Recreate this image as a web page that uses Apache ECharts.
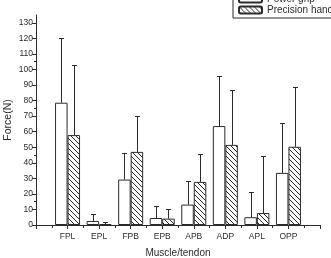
<!DOCTYPE html>
<html>
<head>
<meta charset="utf-8">
<script src="https://cdn.jsdelivr.net/npm/echarts@6/dist/echarts.min.js"></script>
<style>
  html, body { margin: 0; padding: 0; background: #fff; }
  #chart { width: 331px; height: 258px; }
</style>
</head>
<body>
<div id="chart"></div>
<script>
const muscles = ['FPL', 'EPL', 'FPB', 'EPB', 'APB', 'ADP', 'APL', 'OPP'];
const powerGrip = [78.6, 2.6, 29.2, 4.5, 13.1, 63.6, 5.0, 33.5];
const powerGripUpper = [120.5, 6.9, 46.4, 12.0, 28.4, 95.8, 21.5, 65.6];
const precisionHand = [57.8, 0.6, 47.0, 4.1, 27.7, 51.5, 7.7, 50.3];
const precisionHandUpper = [102.9, 2.2, 69.8, 10.3, 45.8, 86.6, 44.5, 88.7];
const yTicks = [0, 10, 20, 30, 40, 50, 60, 70, 80, 90, 100, 110, 120, 130];

const INK = '#2b2b2b';
const BAR_W = 12.5;

// diagonal hatch pattern "\\\\"
function hatch() {
  const c = document.createElement('canvas');
  c.width = 5; c.height = 5;
  const g = c.getContext('2d');
  g.fillStyle = '#fff';
  g.fillRect(0, 0, 5, 5);
  g.strokeStyle = INK;
  g.lineWidth = 1;
  g.beginPath();
  g.moveTo(-1, -1); g.lineTo(6, 6);
  g.moveTo(-1, 4); g.lineTo(1, 6);
  g.moveTo(4, -1); g.lineTo(6, 1);
  g.stroke();
  return { image: c, repeat: 'repeat' };
}

const chart = echarts.init(document.getElementById('chart'), null, { renderer: 'canvas' });

function errorSeries(upper, vals, offset) {
  return {
    type: 'custom',
    silent: true,
    z: 5,
    data: muscles.map((m, i) => [i + 1, vals[i], upper[i]]),
    renderItem: (params, api) => {
      const low = api.coord([api.value(0), api.value(1)]);
      const high = api.coord([api.value(0), api.value(2)]);
      const x = Math.round(low[0] + offset) + 0.5;
      const y0 = low[1];
      const y1 = Math.round(high[1]) + 0.5;
      const style = { stroke: INK, lineWidth: 1 };
      return {
        type: 'group',
        children: [
          { type: 'line', shape: { x1: x, y1: y0, x2: x, y2: y1 }, style },
          { type: 'line', shape: { x1: x - 2.5, y1: y1, x2: x + 2.5, y2: y1 }, style }
        ]
      };
    }
  };
}

chart.setOption({
  animation: false,
  textStyle: { fontFamily: 'Liberation Sans, Arial, sans-serif' },
  grid: { left: 36, right: 11, top: 15, bottom: 33, containLabel: false, outerBoundsMode: 'none' },
  legend: {
    orient: 'vertical',
    left: 233,
    top: -9,
    itemWidth: 23,
    itemHeight: 7,
    itemGap: 1,
    padding: [3, 4, 3, 5],
    borderColor: INK,
    borderWidth: 1,
    textStyle: { fontSize: 10, color: INK, fontFamily: 'Liberation Sans, Arial, sans-serif' },
    data: ['Power grip', 'Precision hand']
  },
  xAxis: {
    type: 'value',
    min: 0,
    max: 9,
    interval: 1,
    name: 'Muscle/tendon',
    nameLocation: 'middle',
    nameGap: 23,
    nameMoveOverlap: false,
    nameTextStyle: { fontSize: 10, color: INK },
    splitLine: { show: false },
    axisLine: { show: true, lineStyle: { color: INK } },
    axisTick: { show: true, length: 4, lineStyle: { color: INK } },
    minorTick: { show: true, splitNumber: 2, length: 3, lineStyle: { color: INK } },
    axisLabel: {
      fontSize: 8.5,
      color: INK,
      margin: 7,
      formatter: v => muscles[v - 1] || ''
    }
  },
  yAxis: {
    type: 'value',
    min: 0,
    max: 135,
    name: 'Force(N)',
    nameLocation: 'middle',
    nameGap: 22,
    nameMoveOverlap: false,
    nameTextStyle: { fontSize: 10.5, color: INK },
    splitLine: { show: false },
    axisLine: { show: true, lineStyle: { color: INK } },
    axisTick: { show: true, length: 4, customValues: yTicks, lineStyle: { color: INK } },
    minorTick: { show: true, splitNumber: 2, length: 2, lineStyle: { color: INK } },
    axisLabel: { fontSize: 8.5, color: INK, margin: 3, customValues: yTicks }
  },
  series: [
    {
      name: 'Power grip',
      type: 'bar',
      barWidth: BAR_W,
      barGap: '0%',
      data: muscles.map((m, i) => [i + 1, powerGrip[i]]),
      itemStyle: { color: '#fff', borderColor: INK, borderWidth: 1 }
    },
    {
      name: 'Precision hand',
      type: 'bar',
      barWidth: BAR_W,
      barGap: '0%',
      data: muscles.map((m, i) => [i + 1, precisionHand[i]]),
      itemStyle: { color: hatch(), borderColor: INK, borderWidth: 1 }
    },
    errorSeries(powerGripUpper, powerGrip, -BAR_W / 2),
    errorSeries(precisionHandUpper, precisionHand, BAR_W / 2)
  ]
});
</script>
</body>
</html>
